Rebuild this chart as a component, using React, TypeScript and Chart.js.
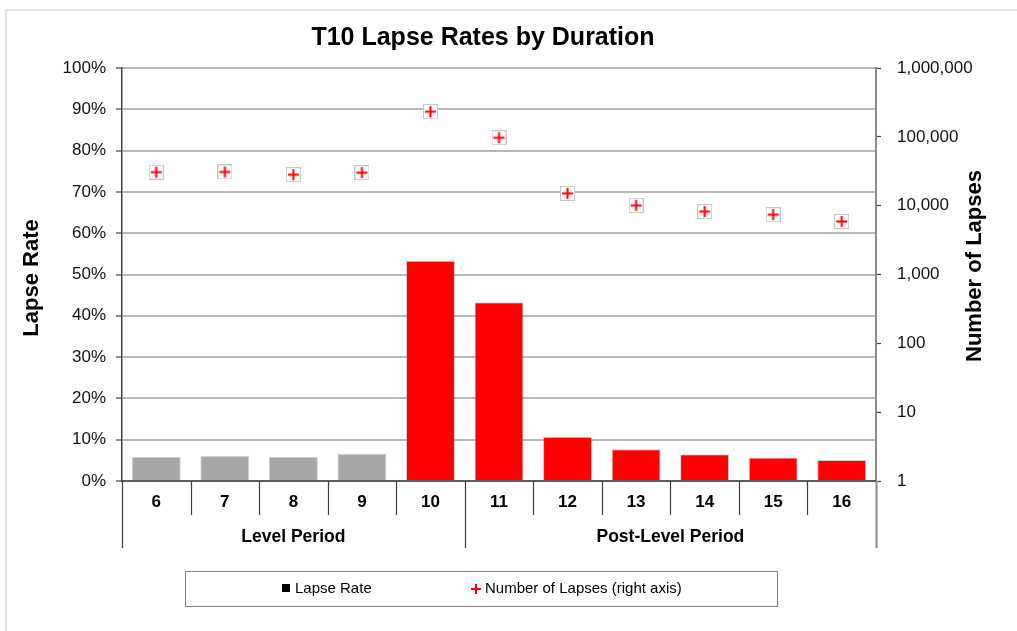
import React, { useEffect, useRef } from "react";
import { Chart, registerables } from "chart.js";

Chart.register(...registerables);

const categories = ["6", "7", "8", "9", "10", "11", "12", "13", "14", "15", "16"];
const lapseRatePct = [5.8, 6.1, 5.8, 6.6, 53.3, 43.3, 10.7, 7.7, 6.5, 5.7, 5.1];
const lapseCounts = [30700, 30900, 28200, 30200, 232000, 97000, 15100, 10100, 8200, 7400, 5900];
const barColors = ["#a6a6a6", "#a6a6a6", "#a6a6a6", "#a6a6a6", "#ff0000", "#ff0000", "#ff0000", "#ff0000", "#ff0000", "#ff0000", "#ff0000"];
const groups = [
  { label: "Level Period", from: 0, to: 4 },
  { label: "Post-Level Period", from: 5, to: 10 },
];
const rightTicks = [1, 10, 100, 1000, 10000, 100000, 1000000];

const TITLE = "T10 Lapse Rates by Duration";
const LEFT_TITLE = "Lapse Rate";
const RIGHT_TITLE = "Number of Lapses";
const LEGEND_BAR = "Lapse Rate";
const LEGEND_PTS = "Number of Lapses (right axis)";

const FONT = "'Liberation Sans', Arial, sans-serif";

function makeMarker(): HTMLCanvasElement {
  const c = document.createElement("canvas");
  c.width = 15;
  c.height = 15;
  const g = c.getContext("2d")!;
  g.fillStyle = "#ffffff";
  g.fillRect(0, 0, 15, 15);
  g.strokeStyle = "#c8c8c8";
  g.lineWidth = 1;
  g.strokeRect(0.5, 0.5, 14, 14);
  g.strokeStyle = "#ff0000";
  g.lineWidth = 2;
  g.beginPath();
  g.moveTo(7.5, 2);
  g.lineTo(7.5, 13);
  g.moveTo(2, 7.5);
  g.lineTo(13, 7.5);
  g.stroke();
  return c;
}

const decorPlugin = {
  id: "decor",
  afterDraw(chart: any) {
    const ctx = chart.ctx as CanvasRenderingContext2D;
    const area = chart.chartArea;
    const xs = chart.scales.x;
    const n = categories.length;
    const w = (area.right - area.left) / n;
    ctx.save();

    // outer faint frame
    ctx.strokeStyle = "#e6e6e6";
    ctx.lineWidth = 2;
    ctx.beginPath();
    ctx.moveTo(6, 631);
    ctx.lineTo(6, 10);
    ctx.lineTo(1017, 10);
    ctx.stroke();

    // title
    ctx.fillStyle = "#000";
    ctx.textAlign = "center";
    ctx.textBaseline = "middle";
    ctx.font = `bold 25px ${FONT}`;
    ctx.fillText(TITLE, 483, 38);

    // axis titles
    ctx.font = `bold 22px ${FONT}`;
    ctx.save();
    ctx.translate(32, 278);
    ctx.rotate(-Math.PI / 2);
    ctx.fillText(LEFT_TITLE, 0, 0);
    ctx.restore();
    ctx.save();
    ctx.translate(975, 266);
    ctx.rotate(-Math.PI / 2);
    ctx.fillText(RIGHT_TITLE, 0, 0);
    ctx.restore();

    // x baseline
    ctx.strokeStyle = "#404040";
    ctx.lineWidth = 1.5;
    ctx.beginPath();
    ctx.moveTo(area.left, area.bottom);
    ctx.lineTo(area.right, area.bottom);
    ctx.stroke();

    // separators
    const longIdx = new Set<number>([0, n]);
    groups.forEach((g) => longIdx.add(g.to + 1));
    for (let i = 0; i <= n; i++) {
      const x = Math.round(area.left + i * w) + 0.5;
      const yEnd = longIdx.has(i) ? area.bottom + 67 : area.bottom + 34;
      ctx.strokeStyle = i === n ? "#8a8a8a" : "#404040";
      ctx.lineWidth = i === n ? 2 : 1.2;
      ctx.beginPath();
      ctx.moveTo(x, area.bottom);
      ctx.lineTo(x, yEnd);
      ctx.stroke();
    }

    // category labels
    ctx.fillStyle = "#000";
    ctx.font = `bold 17px ${FONT}`;
    categories.forEach((c, i) => {
      ctx.fillText(c, xs.getPixelForValue(i), area.bottom + 21);
    });
    ctx.font = `bold 17.5px ${FONT}`;
    groups.forEach((g) => {
      const x0 = area.left + g.from * w;
      const x1 = area.left + (g.to + 1) * w;
      ctx.fillText(g.label, (x0 + x1) / 2, area.bottom + 56);
    });

    // legend
    ctx.strokeStyle = "#7f7f7f";
    ctx.lineWidth = 1;
    ctx.strokeRect(185.5, 571.5, 592, 35);
    ctx.font = `15px ${FONT}`;
    ctx.textAlign = "left";
    ctx.fillStyle = "#000";
    ctx.fillRect(282, 584, 8, 8);
    ctx.fillText(LEGEND_BAR, 295, 589);
    ctx.strokeStyle = "#ff0000";
    ctx.lineWidth = 2;
    ctx.beginPath();
    ctx.moveTo(476, 584);
    ctx.lineTo(476, 594);
    ctx.moveTo(471, 589);
    ctx.lineTo(481, 589);
    ctx.stroke();
    ctx.fillText(LEGEND_PTS, 485, 589);

    ctx.restore();
  },
};

export default function App() {
  const ref = useRef<HTMLCanvasElement | null>(null);
  useEffect(() => {
    if (!ref.current) return;
    const marker = makeMarker();
    const chart = new Chart(ref.current, {
      type: "bar",
      data: {
        labels: categories,
        datasets: [
          {
            type: "line",
            label: LEGEND_PTS,
            data: lapseCounts,
            yAxisID: "y1",
            showLine: false,
            pointStyle: marker as any,
            pointRadius: 7,
            order: 0,
          } as any,
          {
            type: "bar",
            label: LEGEND_BAR,
            data: lapseRatePct,
            yAxisID: "y",
            backgroundColor: barColors,
            borderColor: "rgba(150,150,150,0.45)",
            borderWidth: 1,
            barPercentage: 0.715,
            categoryPercentage: 1,
            order: 1,
          },
        ],
      },
      options: {
        responsive: false,
        animation: false,
        devicePixelRatio: 1,
        layout: { padding: { top: 68, bottom: 150, left: 0, right: 0 } },
        plugins: {
          legend: { display: false },
          title: { display: false },
          tooltip: { enabled: false },
        },
        scales: {
          x: { display: false, offset: true },
          y: {
            position: "left",
            min: 0,
            max: 100,
            ticks: {
              stepSize: 10,
              padding: 10,
              color: "#111",
              font: { family: FONT, size: 17 },
              callback: (v: any) => `${v}%`,
            },
            grid: {
              color: "#b8b8b8",
              lineWidth: 2,
              tickColor: "#404040",
              tickLength: 6,
              tickWidth: 1.2,
            },
            border: { color: "#404040", width: 1.5 },
            afterFit: (s: any) => {
              s.width = 122;
            },
          },
          y1: {
            type: "logarithmic",
            position: "right",
            min: 1,
            max: 1000000,
            afterBuildTicks: (s: any) => {
              s.ticks = rightTicks.map((v) => ({ value: v }));
            },
            ticks: {
              padding: 16,
              color: "#111",
              font: { family: FONT, size: 17 },
              callback: (v: any) => Number(v).toLocaleString("en-US"),
            },
            grid: {
              drawOnChartArea: false,
              tickColor: "#404040",
              tickLength: 5,
              tickWidth: 1.2,
            },
            border: { color: "#8a8a8a", width: 2 },
            afterFit: (s: any) => {
              s.width = 141;
            },
          },
        },
      },
      plugins: [decorPlugin],
    });
    return () => chart.destroy();
  }, []);
  return (
    <div style={{ position: "absolute", left: 0, top: 0, width: 1017, height: 631, background: "#fff" }}>
      <canvas ref={ref} width={1017} height={631} />
    </div>
  );
}
